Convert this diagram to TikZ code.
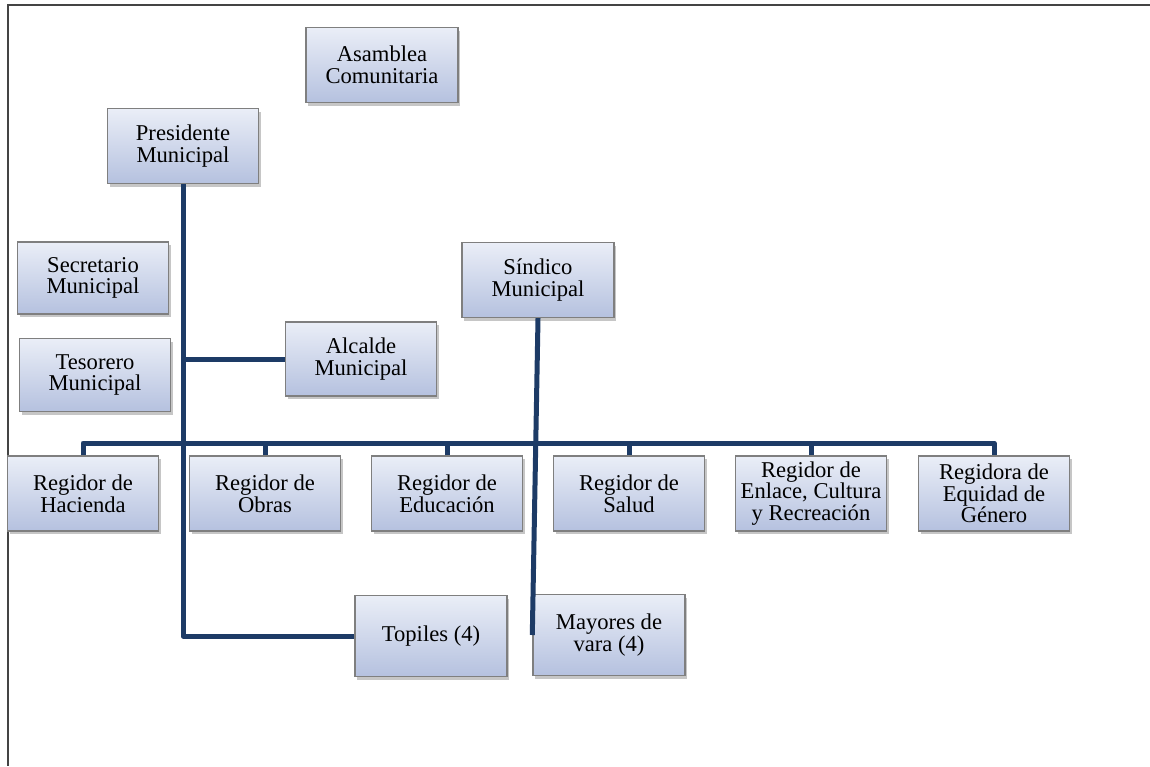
\documentclass[tikz,border=0pt]{standalone}
\usepackage{fontspec}
\setmainfont{Liberation Serif}
\usetikzlibrary{shadows}
\definecolor{cajaarriba}{HTML}{EAEEF7}
\definecolor{cajaabajo}{HTML}{B5C1DF}
\definecolor{cajaborde}{HTML}{7F7F7F}
\definecolor{lineaazul}{HTML}{1D3B66}
\definecolor{marco}{HTML}{444444}
\begin{document}
\begin{tikzpicture}[x=0.5pt, y=-0.5pt,
		caja/.style={draw=cajaborde, line width=0.7pt, top color=cajaarriba, bottom color=cajaabajo,
			minimum width=75.5pt, minimum height=37.5pt, inner sep=1pt, align=center,
			font=\fontsize{11.3}{10.8}\selectfont, text=black,
			drop shadow={opacity=0.45, shadow xshift=1pt, shadow yshift=-1.5pt}},
		linea/.style={draw=lineaazul, line width=2.5pt, line join=round}]
		\useasboundingbox ( 0, 0 ) rectangle ( 1150, 766 );

		% рамка
		\draw [marco, line width=0.6pt] ( 1150, 5 ) -- ( 8, 5 ) -- ( 8, 766 );

		% верхний уровень
		\node [caja, minimum width=76pt] (asamblea) at ( 382, 65 ) {Asamblea\\Comunitaria};
		\node [caja] (presidente) at ( 183, 146 ) {Presidente\\Municipal};
		\node [caja, minimum height=36pt] (secretario) at ( 93, 278 ) {Secretario\\Municipal};
		\node [caja, minimum height=36.5pt] (tesorero) at ( 95, 375 ) {Tesorero\\Municipal};
		\node [caja, minimum height=37pt] (alcalde) at ( 361, 359 ) {Alcalde\\Municipal};
		\node [caja, minimum width=76pt] (sindico) at ( 538, 280 ) {Síndico\\Municipal};

		% регидоры
		\node [caja] (hacienda) at ( 83, 493.5 ) {Regidor de\\Hacienda};
		\node [caja] (obras) at ( 265, 493.5 ) {Regidor de\\Obras};
		\node [caja] (educacion) at ( 447, 493.5 ) {Regidor de\\Educación};
		\node [caja] (salud) at ( 629, 493.5 ) {Regidor de\\Salud};
		\node [caja] (enlace) at ( 811, 493.5 ) {Regidor de\\Enlace, Cultura\\y Recreación};
		\node [caja] (equidad) at ( 994, 493.5 ) {Regidora de\\Equidad de\\Género};

		% нижний уровень
		\node [caja, minimum width=76pt, minimum height=40.5pt] (topiles) at ( 431, 636 ) {Topiles (4)};
		\node [caja, minimum width=76pt, minimum height=40.5pt] (mayores) at ( 609, 635 ) {Mayores de\\vara (4)};

		% связи
		\coordinate (bus) at ( 0, 443 );
		\draw [linea] (presidente.south) -- (presidente.south |- topiles.west) -- (topiles.west);
		\draw [linea] (presidente.south |- alcalde.west) -- (alcalde.west);
		\draw [linea] (hacienda.north) -- (hacienda.north |- bus) -- (equidad.north |- bus) -- (equidad.north);
		\draw [linea] (obras.north) -- (obras.north |- bus);
		\draw [linea] (educacion.north) -- (educacion.north |- bus);
		\draw [linea] (salud.north) -- (salud.north |- bus);
		\draw [linea] (enlace.north) -- (enlace.north |- bus);
		\draw [linea] (sindico.south) -- (mayores.west);
	\end{tikzpicture}
\end{document}
